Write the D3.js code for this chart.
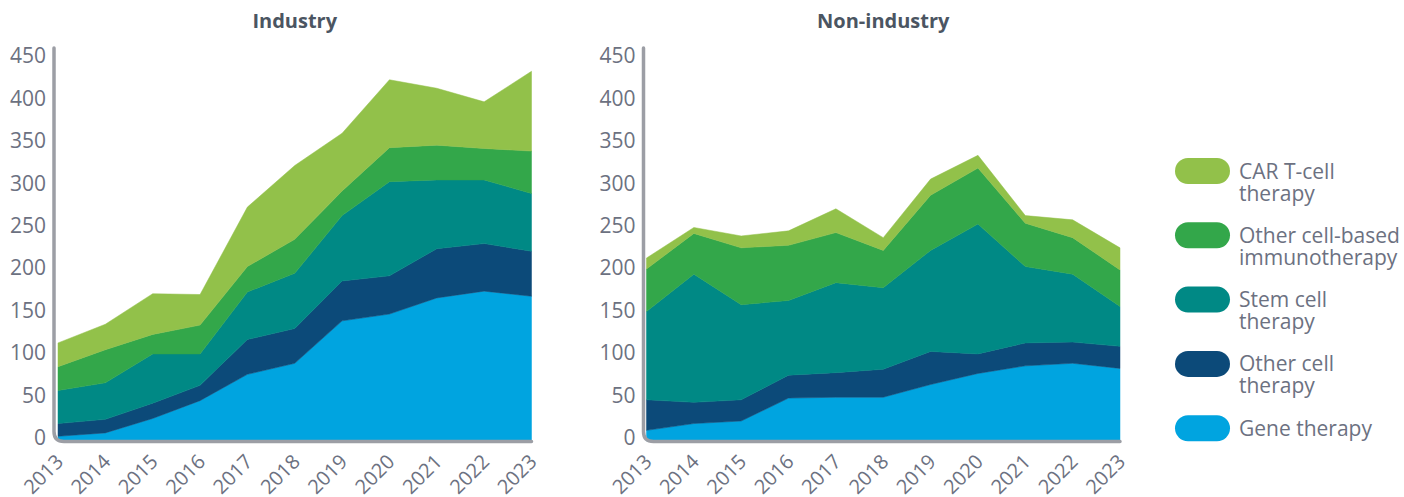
<!DOCTYPE html>
<html>
<head>
<meta charset="utf-8">
<script src="https://cdn.jsdelivr.net/npm/d3@7"></script>
<style>
  body { margin: 0; background: #fff; }
  svg { display: block; font-family: "Open Sans", "Noto Sans", sans-serif; }
</style>
</head>
<body>
<div id="chart"></div>
<script>
// years on the x axis
const years = [2013, 2014, 2015, 2016, 2017, 2018, 2019, 2020, 2021, 2022, 2023];

// series keys, bottom of the stack first
const seriesKeys = ["Gene therapy", "Other cell therapy", "Stem cell therapy", "Other cell-based immunotherapy", "CAR T-cell therapy"];

// industry values per series
const industryGene = [2, 6, 23, 44, 75, 88, 138, 146, 165, 173, 167];
const industryOtherCell = [15, 16, 18, 18, 41, 41, 47, 45, 58, 56, 53];
const industryStem = [39, 43, 58, 37, 56, 65, 77, 111, 81, 75, 68];
const industryImmuno = [28, 39, 23, 34, 30, 40, 29, 40, 41, 37, 50];
const industryCarT = [28, 30, 48, 36, 70, 87, 68, 80, 67, 55, 94];

// non-industry values per series
const nonIndustryGene = [9, 17, 20, 47, 48, 48, 63, 76, 85, 88, 82];
const nonIndustryOtherCell = [36, 25, 25, 27, 29, 33, 39, 23, 27, 25, 26];
const nonIndustryStem = [104, 151, 112, 88, 106, 96, 119, 153, 90, 80, 47];
const nonIndustryImmuno = [50, 48, 67, 65, 59, 44, 65, 66, 51, 43, 43];
const nonIndustryCarT = [13, 7, 14, 17, 28, 15, 19, 15, 9, 21, 26];

const yTicks = [0, 50, 100, 150, 200, 250, 300, 350, 400, 450];

// legend, top to bottom
const legendItems = [
    ["CAR T-cell", "therapy"],
    ["Other cell-based", "immunotherapy"],
    ["Stem cell", "therapy"],
    ["Other cell", "therapy"],
    ["Gene therapy"]
];

const colors = {
    "Gene therapy": "#00a4e0",
    "Other cell therapy": "#0c4a79",
    "Stem cell therapy": "#008985",
    "Other cell-based immunotherapy": "#33a74a",
    "CAR T-cell therapy": "#92c14a"
};

const width = 1404, height = 497;
const axisColor = "#9c9ea5", textColor = "#6c7181";

const svg = d3.select("#chart")
    .append("svg")
    .attr("width", width)
    .attr("height", height);

function buildRows(series) {
    return years.map(function (yr, i) {
        var row = { year: yr };
        seriesKeys.forEach(function (k, j) { row[k] = series[j][i]; });
        return row;
    });
}

function drawPanel(title, rows, x0, x1, axisX) {
    var g = svg.append("g");

    var x = d3.scalePoint()
        .domain(years)
        .range([x0, x1]);

    var y = d3.scaleLinear()
        .domain([0, 450])
        .range([438, 56]);

    var stacked = d3.stack().keys(seriesKeys)(rows);

    var area = d3.area()
        .x(function (d) { return x(d.data.year); })
        .y0(function (d) { return d[0] === 0 ? y(0) + 3 : y(d[0]); })
        .y1(function (d) { return y(d[1]); });

    g.selectAll("path.layer")
        .data(stacked)
        .enter()
        .append("path")
        .attr("class", "layer")
        .attr("d", area)
        .attr("fill", function (d) { return colors[d.key]; })
        .attr("stroke", function (d) { return colors[d.key]; })
        .attr("stroke-width", 0.5);

    // axis line with rounded corner
    var yb = y(0) + 3.5, r = 10;
    g.append("path")
        .attr("d", `M${axisX},48 L${axisX},${yb - r} Q${axisX},${yb} ${axisX + r},${yb} L${x1},${yb}`)
        .attr("fill", "none")
        .attr("stroke", axisColor)
        .attr("stroke-width", 3.5)
        .attr("stroke-linecap", "round");

    // y axis labels
    var yAxis = g.append("g")
        .attr("transform", `translate(${axisX},0)`)
        .call(d3.axisLeft(y).tickValues(yTicks).tickSize(0).tickPadding(8));
    yAxis.select(".domain").remove();
    yAxis.selectAll("text")
        .attr("fill", textColor)
        .style("font-size", "21px")
        .style("font-family", "'Open Sans', sans-serif");

    // x axis labels, rotated
    var xAxis = g.append("g")
        .attr("transform", `translate(0,${y(0)})`)
        .call(d3.axisBottom(x).tickSize(0));
    xAxis.select(".domain").remove();
    xAxis.selectAll("text")
        .attr("x", 0)
        .attr("y", 0)
        .attr("dy", 0)
        .attr("text-anchor", "end")
        .attr("transform", "translate(6,25) rotate(-45)")
        .attr("fill", textColor)
        .style("font-size", "20px")
        .style("font-family", "'Open Sans', sans-serif");

    g.append("text")
        .attr("x", (x0 + x1) / 2)
        .attr("y", 28)
        .attr("text-anchor", "middle")
        .attr("fill", "#4b5562")
        .style("font-size", "20px")
        .style("font-weight", "bold")
        .text(title);
}

drawPanel("Industry",
    buildRows([industryGene, industryOtherCell, industryStem, industryImmuno, industryCarT]),
    58, 531.5, 54);

drawPanel("Non-industry",
    buildRows([nonIndustryGene, nonIndustryOtherCell, nonIndustryStem, nonIndustryImmuno, nonIndustryCarT]),
    646.5, 1120, 643.5);

// legend
const legendKeys = seriesKeys.slice().reverse();
const legend = svg.append("g");

legend.selectAll("rect")
    .data(legendKeys)
    .enter()
    .append("rect")
    .attr("x", 1175)
    .attr("y", function (d, i) { return 171 + i * 64.3 - 13; })
    .attr("width", 55)
    .attr("height", 26)
    .attr("rx", 13)
    .attr("fill", function (d) { return colors[d]; });

legend.selectAll("text")
    .data(legendItems)
    .enter()
    .append("text")
    .attr("x", 1239)
    .attr("y", function (d, i) { return 171 + i * 64.3 + 7.5; })
    .attr("fill", textColor)
    .style("font-size", "21px")
    .each(function (d) {
        var t = d3.select(this);
        d.forEach(function (line, j) {
            t.append("tspan")
                .attr("x", 1239)
                .attr("dy", j === 0 ? 0 : 22)
                .text(line);
        });
    });
</script>
</body>
</html>
